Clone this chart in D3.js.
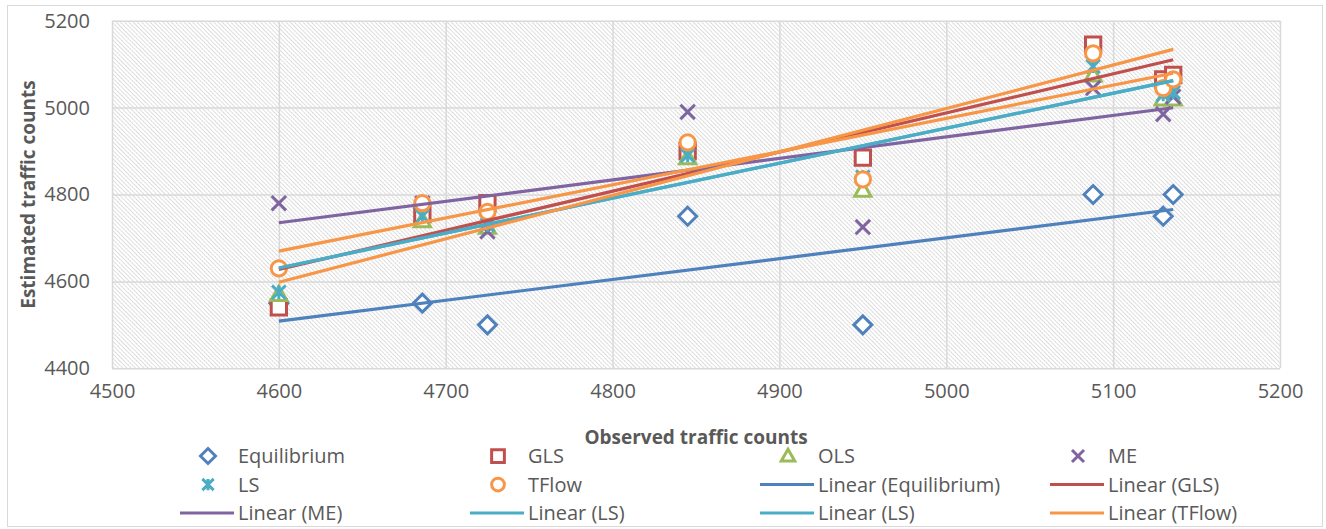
<!DOCTYPE html>
<html>
<head>
<meta charset="utf-8">
<script src="https://cdn.jsdelivr.net/npm/d3@7"></script>
<style>
  body { margin: 0; background: #fff; }
  svg text { font-family: "Open Sans", sans-serif; fill: #595959; }
</style>
</head>
<body>
<div id="chart"></div>
<script>
// observed counts (x) and estimated counts for each method (y)
const xObs = [4600, 4686, 4725, 4845, 4950, 5088, 5130, 5136];
const equilibrium = [4550, 4550, 4500, 4750, 4500, 4800, 4750, 4800];
const gls = [4540, 4755, 4780, 4900, 4885, 5145, 5065, 5075];
const ols = [4570, 4740, 4725, 4885, 4810, 5075, 5020, 5020];
const me = [4780, 4780, 4715, 4990, 4725, 5045, 4985, 5025];
const ls = [4575, 4750, 4730, 4890, 4840, 5095, 5030, 5035];
const tflow = [4630, 4780, 4760, 4920, 4835, 5125, 5045, 5065];

// second orange trend line shown in the chart (no matching legend entry)
const extraTrendX = [4600, 5136];
const extraTrendY = [4598, 5134];

const xTicks = [4500, 4600, 4700, 4800, 4900, 5000, 5100, 5200];
const yTicks = [4400, 4600, 4800, 5000, 5200];

const series = [
  {name: "Equilibrium", vals: equilibrium, color: "#4f81bd", shape: "diamond"},
  {name: "GLS", vals: gls, color: "#c0504d", shape: "square"},
  {name: "OLS", vals: ols, color: "#9bbb59", shape: "triangle"},
  {name: "ME", vals: me, color: "#8064a2", shape: "x"},
  {name: "LS", vals: ls, color: "#4bacc6", shape: "star"},
  {name: "TFlow", vals: tflow, color: "#f79646", shape: "circle"}
];
const trendNames = ["Equilibrium", "GLS", "ME", "LS", "LS", "TFlow"];

const width = 1326, height = 529;
const plot = {left: 112, right: 1280, top: 20.7, bottom: 368.3};

const svg = d3.select("#chart").append("svg")
  .attr("width", width)
  .attr("height", height);

const defs = svg.append("defs");
const pat = defs.append("pattern")
  .attr("id", "hatch")
  .attr("patternUnits", "userSpaceOnUse")
  .attr("width", 3)
  .attr("height", 3)
  .attr("patternTransform", "rotate(-45)");
pat.append("rect").attr("width", 3).attr("height", 3).attr("fill", "#fff");
pat.append("line")
  .attr("x1", 0.5).attr("y1", 0).attr("x2", 0.5).attr("y2", 3)
  .attr("stroke", "#d0d0d0")
  .attr("stroke-width", 0.9)
  .attr("stroke-dasharray", "1.8,0.6");

// chart border
svg.append("rect")
  .attr("x", 7.5).attr("y", 5.5)
  .attr("width", 1315).attr("height", 521)
  .attr("fill", "#fff")
  .attr("stroke", "#d9d9d9");

const x = d3.scaleLinear().domain([4500, 5200]).range([plot.left, plot.right]);
const y = d3.scaleLinear().domain([4400, 5200]).range([plot.bottom, plot.top]);

svg.append("rect")
  .attr("x", plot.left).attr("y", plot.top)
  .attr("width", plot.right - plot.left)
  .attr("height", plot.bottom - plot.top)
  .attr("fill", "url(#hatch)");

// gridlines
svg.append("g")
  .attr("transform", `translate(0,${plot.bottom})`)
  .call(d3.axisBottom(x).tickValues(xTicks).tickSize(-(plot.bottom - plot.top)).tickFormat(d3.format("d")).tickPadding(16))
  .call(g => g.select(".domain").remove())
  .call(g => g.selectAll("line").attr("stroke", "#d9d9d9").attr("stroke-width", 1.5))
  .call(g => g.selectAll("text").attr("font-size", 20).attr("font-family", null).attr("fill", "#595959"));

svg.append("g")
  .attr("transform", `translate(${plot.left},0)`)
  .call(d3.axisLeft(y).tickValues(yTicks).tickSize(-(plot.right - plot.left)).tickFormat(d3.format("d")).tickPadding(22))
  .call(g => g.select(".domain").remove())
  .call(g => g.selectAll("line").attr("stroke", "#d9d9d9").attr("stroke-width", 1.5))
  .call(g => g.selectAll("text").attr("font-size", 20).attr("font-family", null).attr("fill", "#595959"));

// axis titles
svg.append("text")
  .attr("x", (plot.left + plot.right) / 2)
  .attr("y", 444)
  .attr("text-anchor", "middle")
  .attr("font-size", 19)
  .attr("font-weight", "bold")
  .text("Observed traffic counts");

svg.append("text")
  .attr("transform", `translate(35,${(plot.top + plot.bottom) / 2}) rotate(-90)`)
  .attr("text-anchor", "middle")
  .attr("font-size", 19)
  .attr("font-weight", "bold")
  .text("Estimated traffic counts");

function markerPath(shape, s) {
  const p = d3.path();
  if (shape === "diamond") {
    p.moveTo(0, -s); p.lineTo(s, 0); p.lineTo(0, s); p.lineTo(-s, 0); p.closePath();
  } else if (shape === "square") {
    const h = s * 0.85;
    p.rect(-h, -h, 2 * h, 2 * h);
  } else if (shape === "triangle") {
    const h = s * 0.9;
    p.moveTo(0, -h); p.lineTo(h, h * 0.75); p.lineTo(-h, h * 0.75); p.closePath();
  } else if (shape === "circle") {
    p.arc(0, 0, s * 0.85, 0, 2 * Math.PI);
  } else if (shape === "x") {
    const h = s * 0.8;
    p.moveTo(-h, -h); p.lineTo(h, h); p.moveTo(h, -h); p.lineTo(-h, h);
  } else if (shape === "star") {
    const h = s * 0.75;
    p.moveTo(-h, -h); p.lineTo(h, h); p.moveTo(h, -h); p.lineTo(-h, h);
    p.moveTo(0, -h); p.lineTo(0, h);
  }
  return p.toString();
}

// markers
series.forEach(s => {
  svg.append("g").selectAll("path")
    .data(xObs.map((xv, i) => ({x: xv, y: s.vals[i]})))
    .enter().append("path")
    .attr("transform", d => `translate(${x(d.x)},${y(d.y)})`)
    .attr("d", markerPath(s.shape, 9))
    .attr("fill", (s.shape === "x" || s.shape === "star") ? "none" : "#fff")
    .attr("stroke", s.color)
    .attr("stroke-width", 3);
});

// linear trend lines (least squares)
function linFit(xs, ys) {
  const mx = d3.mean(xs), my = d3.mean(ys);
  const sxy = d3.sum(xs, (v, i) => (v - mx) * (ys[i] - my));
  const sxx = d3.sum(xs, v => (v - mx) * (v - mx));
  const b = sxy / sxx;
  return v => my + b * (v - mx);
}

const line = d3.line().x(d => x(d[0])).y(d => y(d[1]));
const xExt = d3.extent(xObs);

trendNames.forEach(n => {
  const s = series.find(d => d.name === n);
  const f = linFit(xObs, s.vals);
  svg.append("path")
    .datum(xExt.map(v => [v, f(v)]))
    .attr("d", line)
    .attr("fill", "none")
    .attr("stroke", s.color)
    .attr("stroke-width", 3.2);
});

svg.append("path")
  .datum(extraTrendX.map((v, i) => [v, extraTrendY[i]]))
  .attr("d", line)
  .attr("fill", "none")
  .attr("stroke", "#f79646")
  .attr("stroke-width", 3.2);

// legend
const legendItems = series.map(s => ({label: s.name, color: s.color, shape: s.shape}))
  .concat(trendNames.map(n => ({label: `Linear (${n})`, color: series.find(d => d.name === n).color, shape: "line"})));

const legend = svg.append("g");
legendItems.forEach((d, i) => {
  const col = i % 4, row = Math.floor(i / 4);
  const tx = 238 + col * 290, ty = 456 + row * 28.5;
  const g = legend.append("g");
  if (d.shape === "line") {
    g.append("line")
      .attr("x1", tx - 58).attr("x2", tx - 4)
      .attr("y1", ty).attr("y2", ty)
      .attr("stroke", d.color)
      .attr("stroke-width", 3.2);
  } else {
    g.append("path")
      .attr("transform", `translate(${tx - 30},${ty})`)
      .attr("d", markerPath(d.shape, 7.5))
      .attr("fill", (d.shape === "x" || d.shape === "star") ? "none" : "#fff")
      .attr("stroke", d.color)
      .attr("stroke-width", 3);
  }
  g.append("text")
    .attr("x", tx)
    .attr("y", ty)
    .attr("dy", "0.35em")
    .attr("font-size", 20)
    .text(d.label);
});
</script>
</body>
</html>
